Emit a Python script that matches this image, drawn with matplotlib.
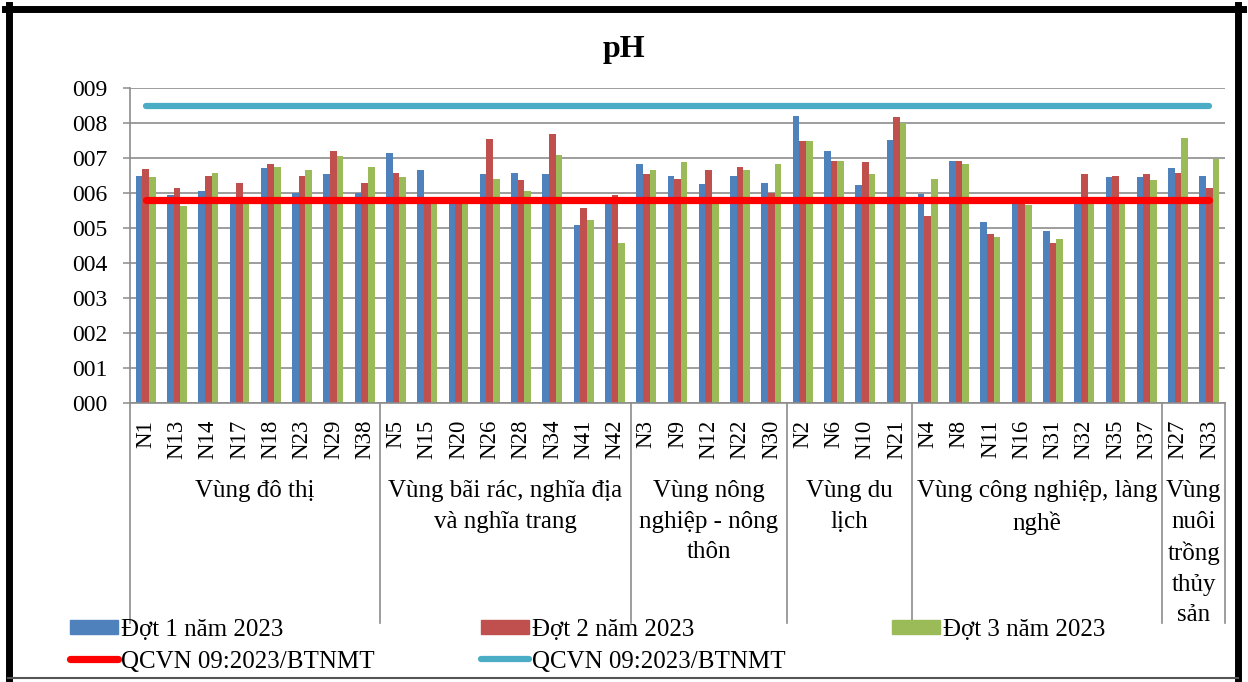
import matplotlib
matplotlib.use('Agg')
import matplotlib.pyplot as plt
import matplotlib.transforms as mtransforms
from matplotlib.lines import Line2D
from matplotlib.patches import Patch
import numpy as np

plt.rcParams['font.family'] = ['Liberation Serif', 'DejaVu Serif']

sites = ['N1', 'N13', 'N14', 'N17', 'N18', 'N23', 'N29', 'N38',
         'N5', 'N15', 'N20', 'N26', 'N28', 'N34', 'N41', 'N42',
         'N3', 'N9', 'N12', 'N22', 'N30',
         'N2', 'N6', 'N10', 'N21',
         'N4', 'N8', 'N11', 'N16', 'N31', 'N32', 'N35', 'N37',
         'N27', 'N33']
groups = ['Vùng đô thị',
          'Vùng bãi rác, nghĩa địa\nvà nghĩa trang',
          'Vùng nông\nnghiệp - nông\nthôn',
          'Vùng du\nlịch',
          'Vùng công nghiệp, làng\nnghề',
          'Vùng\nnuôi\ntrồng\nthủy\nsản']
group_sizes = [8, 8, 5, 4, 8, 2]

dot1 = [6.50, 5.95, 6.05, 5.90, 6.72, 6.00, 6.55, 6.00,
        7.13, 6.65, 5.80, 6.54, 6.58, 6.54, 5.09, 5.80,
        6.82, 6.50, 6.27, 6.50, 6.30,
        8.21, 7.20, 6.23, 7.51,
        5.96, 6.92, 5.16, 5.80, 4.92, 5.80, 6.45, 6.45,
        6.71, 6.50]
dot2 = [6.69, 6.14, 6.50, 6.30, 6.82, 6.50, 7.20, 6.30,
        6.58, 5.85, 5.80, 7.54, 6.37, 7.69, 5.58, 5.95,
        6.54, 6.41, 6.65, 6.75, 6.00,
        7.49, 6.92, 6.89, 8.17,
        5.34, 6.92, 4.82, 5.80, 4.57, 6.54, 6.50, 6.54,
        6.58, 6.13]
dot3 = [6.45, 5.62, 6.58, 5.75, 6.75, 6.65, 7.06, 6.75,
        6.47, 5.69, 5.70, 6.41, 6.07, 7.09, 5.24, 4.58,
        6.65, 6.89, 5.80, 6.65, 6.82,
        7.49, 6.92, 6.54, 8.00,
        6.41, 6.82, 4.75, 5.67, 4.69, 5.75, 5.80, 6.37,
        7.58, 6.96]
qcvn_min = 5.8
qcvn_max = 8.5

series_labels = ['Đợt 1 năm 2023', 'Đợt 2 năm 2023', 'Đợt 3 năm 2023']
line_labels = ['QCVN 09:2023/BTNMT', 'QCVN 09:2023/BTNMT']
yticks = list(range(10))
ytick_labels = [f'{v:03d}' for v in yticks]

c_blue, c_red, c_green = '#4F81BD', '#C0504D', '#9BBB59'
c_line_red, c_line_cyan = '#FF0000', '#4BACC6'
grid_c = '#8C8C8C'

W, H = 1248, 682
fig = plt.figure(figsize=(W / 100, H / 100), dpi=100)
ax = fig.add_axes([130 / W, 1 - 403 / H, 1095 / W, 315 / H])

x = np.arange(len(sites))
bw = 0.213
ax.bar(x - bw, dot1, bw, color=c_blue, zorder=2)
ax.bar(x, dot2, bw, color=c_red, zorder=2)
ax.bar(x + bw, dot3, bw, color=c_green, zorder=2)
ax.plot(x, [qcvn_min] * len(x), color=c_line_red, lw=5.2, solid_capstyle='round', zorder=3)
ax.plot(x, [qcvn_max] * len(x), color=c_line_cyan, lw=4.5, solid_capstyle='round', zorder=3)

ax.set_xlim(-0.5, len(sites) - 0.5)
ax.set_ylim(0, 9)
ax.set_yticks(yticks)
ax.set_yticklabels(ytick_labels, fontsize=17)
ax.tick_params(axis='y', length=5, width=1.1, color=grid_c, pad=11)
ax.yaxis.grid(True, color=grid_c, lw=1.2, zorder=0)
ax.set_axisbelow(True)
ax.set_xticks(x)
ax.set_xticklabels(sites, rotation=90, fontsize=16.5)
ax.tick_params(axis='x', length=0, pad=12)
for s in ['top', 'right']:
    ax.spines[s].set_visible(False)
for s in ['left', 'bottom']:
    ax.spines[s].set_color(grid_c)
    ax.spines[s].set_linewidth(1.2)

trans = mtransforms.blended_transform_factory(ax.transData, ax.transAxes)
bounds = np.concatenate([[0], np.cumsum(group_sizes)]) - 0.5
for b in bounds:
    ax.add_line(Line2D([b, b], [0, -0.70], transform=trans, color=grid_c,
                       lw=1.2, clip_on=False))
for i, g in enumerate(groups):
    cx = (bounds[i] + bounds[i + 1]) / 2
    ax.text(cx, -0.245, g, transform=trans, ha='center', va='top',
            fontsize=18, linespacing=1.5, multialignment='center')

fig.text(0.5, 1 - 50 / H, 'pH', ha='center', va='center', fontsize=23,
         fontweight='bold')

handles = [Patch(color=c_blue, label=series_labels[0]),
           Line2D([], [], color=c_line_red, lw=5.2, solid_capstyle='round', label=line_labels[0]),
           Patch(color=c_red, label=series_labels[1]),
           Line2D([], [], color=c_line_cyan, lw=4.5, solid_capstyle='round', label=line_labels[1]),
           Patch(color=c_green, label=series_labels[2])]
fig.legend(handles=handles, ncol=3, loc='upper left',
           bbox_to_anchor=(70 / W, 1 - 619 / H), frameon=False, fontsize=18,
           borderpad=0, borderaxespad=0, handlelength=1.92, handleheight=0.52,
           handletextpad=0.12, columnspacing=4.25, labelspacing=0.38)

# outer frame
fig.add_artist(Line2D([8.5 / W, 8.5 / W], [1 - 5 / H, 1 - 679 / H], transform=fig.transFigure, color='black', lw=5))
fig.add_artist(Line2D([5 / W, 1243 / W], [1 - 8.5 / H, 1 - 8.5 / H], transform=fig.transFigure, color='black', lw=5))
fig.add_artist(Line2D([1238 / W, 1238 / W], [1 - 5 / H, 1 - 679 / H], transform=fig.transFigure, color='black', lw=5))
fig.add_artist(Line2D([8 / W, 1238 / W], [1 - 678 / H, 1 - 678 / H], transform=fig.transFigure, color='#555555', lw=1.5))

fig.savefig('out.png', dpi=100)
